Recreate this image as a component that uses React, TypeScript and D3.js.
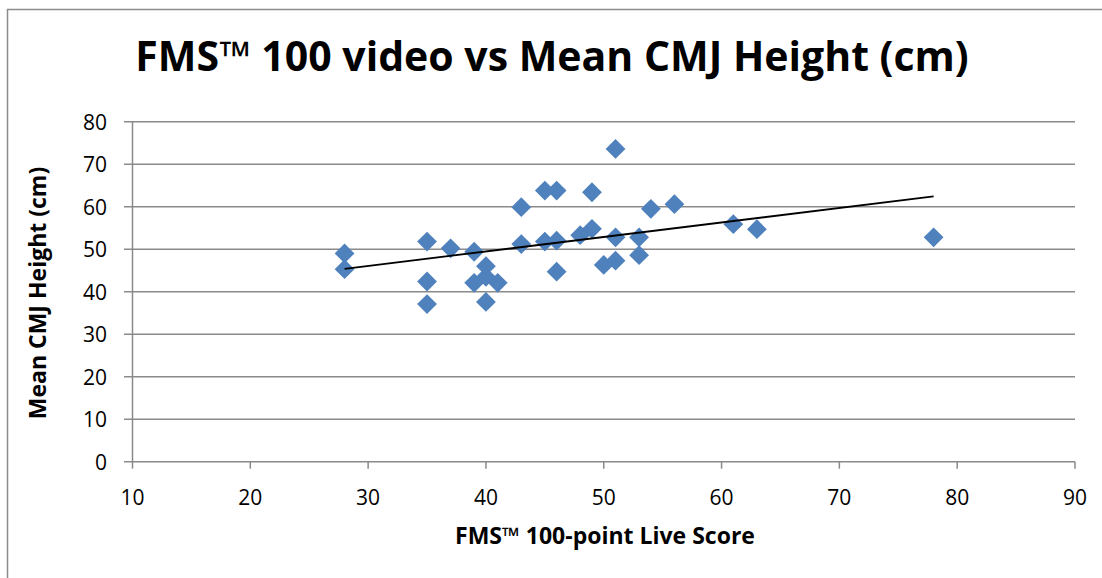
import React from 'react';
import { scaleLinear, symbol, symbolSquare, line } from 'd3';

const fmsScore = [
  28, 28, 35, 35, 35, 37, 39, 39, 40, 40, 40, 41, 43, 43, 45, 45, 46, 46, 46,
  48, 49, 49, 50, 51, 51, 51, 53, 53, 54, 56, 61, 63, 78,
];
const cmjHeight = [
  49.0, 45.3, 51.8, 42.4, 37.1, 50.2, 49.4, 42.1, 46.0, 43.5, 37.6, 42.1, 59.9, 51.2, 63.8, 51.8, 63.8, 52.0, 44.7,
  53.3, 63.4, 54.8, 46.3, 73.6, 52.8, 47.3, 52.8, 48.6, 59.5, 60.6, 55.9, 54.7, 52.8,
];
const xTicks = [10, 20, 30, 40, 50, 60, 70, 80, 90];
const yTicks = [0, 10, 20, 30, 40, 50, 60, 70, 80];

const W = 1102;
const H = 578;
const font = '"Open Sans", Lato, sans-serif';

// least squares trendline
function fitLine(xs: number[], ys: number[]) {
  const n = xs.length;
  const mx = xs.reduce((a, b) => a + b, 0) / n;
  const my = ys.reduce((a, b) => a + b, 0) / n;
  let sxy = 0;
  let sxx = 0;
  xs.forEach((x, i) => {
    sxy += (x - mx) * (ys[i] - my);
    sxx += (x - mx) * (x - mx);
  });
  const slope = sxy / sxx;
  return (x: number) => my + slope * (x - mx);
}

export default function App() {
  const x = scaleLinear().domain([10, 90]).range([132.5, 1075]);
  const y = scaleLinear().domain([0, 80]).range([461.7, 121.7]);
  const diamond = symbol().type(symbolSquare).size(196)();
  const trend = fitLine(fmsScore, cmjHeight);
  const xMin = Math.min(...fmsScore);
  const xMax = Math.max(...fmsScore);
  const trendPath = line<number>()
    .x(d => x(d))
    .y(d => y(trend(d)))([xMin, xMax]);

  return (
    <svg
      width={W}
      height={H}
      style={{ position: 'absolute', left: 0, top: 0, background: '#fff' }}
    >
      <path d={`M7.5,${H} V9.5 H${W}`} fill="none" stroke="#8c8c8c" strokeWidth={1.5} />
      <text x={552} y={71} textAnchor="middle" fontFamily={font} fontWeight="bold" fontSize={41}>
        FMS™ 100 video vs Mean CMJ Height (cm)
      </text>

      {/* grid + y axis */}
      {yTicks.map(t => (
        <g key={t}>
          <line x1={124} x2={1075} y1={y(t)} y2={y(t)} stroke="#8a8a8a" strokeWidth={1.5} />
          <text x={107} y={y(t) + 8} textAnchor="end" fontFamily={font} fontSize={21}>
            {t}
          </text>
        </g>
      ))}
      <line x1={x(10)} x2={x(10)} y1={y(0)} y2={y(80)} stroke="#8a8a8a" strokeWidth={1.5} />
      {xTicks.map(t => (
        <g key={t}>
          <line x1={x(t)} x2={x(t)} y1={y(0)} y2={y(0) + 7} stroke="#8a8a8a" strokeWidth={1.5} />
          <text x={x(t)} y={505} textAnchor="middle" fontFamily={font} fontSize={21}>
            {t}
          </text>
        </g>
      ))}

      {fmsScore.map((d, i) => (
        <path
          key={i}
          d={diamond}
          transform={`translate(${x(d)},${y(cmjHeight[i])}) rotate(45)`}
          fill="#4f81bd"
        />
      ))}
      <path d={trendPath ?? ''} fill="none" stroke="#000" strokeWidth={1.8} />

      <text x={605} y={544} textAnchor="middle" fontFamily={font} fontWeight="bold" fontSize={23}>
        FMS™ 100-point Live Score
      </text>
      <text
        transform={`translate(46,${293}) rotate(-90)`}
        textAnchor="middle"
        fontFamily={font}
        fontWeight="bold"
        fontSize={23}
      >
        Mean CMJ Height (cm)
      </text>
    </svg>
  );
}
